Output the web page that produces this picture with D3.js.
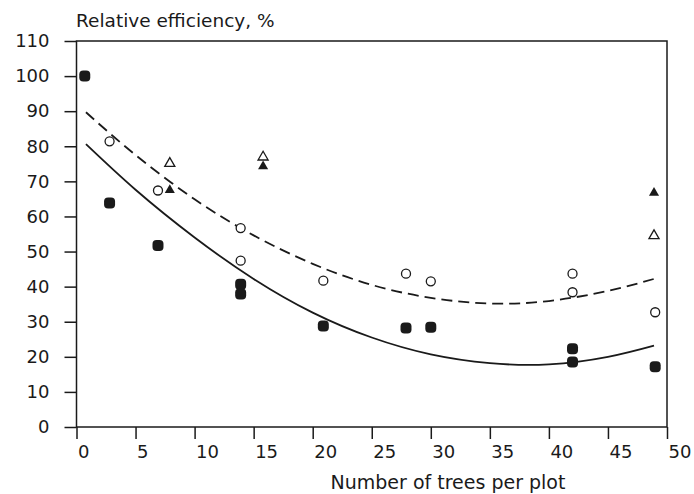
<!DOCTYPE html>
<html>
<head>
<meta charset="utf-8">
<script src="https://cdn.jsdelivr.net/npm/d3@7"></script>
<style>
body { margin: 0; background: #fff; }
text { font-family: "DejaVu Sans", "Liberation Sans", Arial, sans-serif; fill: #1a1a1a; }
</style>
</head>
<body>
<script>
// values
var xTicks = [0, 5, 10, 15, 20, 25, 30, 35, 40, 45, 50]
var yTicks = [0, 10, 20, 30, 40, 50, 60, 70, 80, 90, 100, 110]

var pelneKola = [[0.7, 100], [2.8, 63.8], [6.9, 51.7], [13.9, 40.7], [13.9, 37.9], [20.9, 28.8],
  [27.9, 28.2], [30.0, 28.4], [42.0, 22.3], [42.0, 18.5], [49.0, 17.2]]
var pusteKola = [[2.8, 81.4], [6.9, 67.4], [13.9, 56.7], [13.9, 47.4], [20.9, 41.7],
  [27.9, 43.7], [30.0, 41.5], [42.0, 43.7], [42.0, 38.4], [49.0, 32.7]]
var pusteTrojkaty = [[7.9, 75.4], [15.8, 77.2], [48.9, 54.8]]
var pelneTrojkaty = [[7.9, 67.8], [15.8, 74.6], [48.9, 67]]

// fitted curves, every 5 trees
var liniaCiagla = [[0.8, 80.6], [5, 67.6], [10, 54], [15, 42.2], [20, 32.6], [25, 25.5],
  [30, 20.7], [35, 18.2], [40, 17.85], [45, 20.0], [48.9, 23.2]]
var liniaPrzerywana = [[0.8, 89.7], [5, 77.5], [10, 64.9], [15, 54.6], [20, 46.5], [25, 40.5],
  [30, 36.8], [35, 35.2], [40, 35.9], [45, 38.8], [48.9, 42.2]]

var szer = 694, wys = 494
var svg = d3.select("body").append("svg")
  .attr("width", szer)
  .attr("height", wys)

var x = d3.scaleLinear().domain([0, 50]).range([76.5, 667])
var y = d3.scaleLinear().domain([0, 110]).range([427, 41])

var kolor = "#1a1a1a"

// frame
svg.append("rect")
  .attr("x", x(0)).attr("y", y(110))
  .attr("width", x(50) - x(0)).attr("height", y(0) - y(110))
  .attr("fill", "none").attr("stroke", kolor).attr("stroke-width", 1.5)

var osY = svg.append("g").attr("transform", "translate(" + x(0) + ",0)")
  .call(d3.axisLeft(y).tickValues(yTicks).tickSize(12).tickPadding(15))
osY.select(".domain").remove()
osY.selectAll("line").attr("stroke", kolor).attr("stroke-width", 1.5)
osY.selectAll("text").style("font-size", "18px").attr("fill", kolor)

var osX = svg.append("g").attr("transform", "translate(0," + y(0) + ")")
  .call(d3.axisBottom(x).tickValues(xTicks).tickSize(12).tickPadding(6))
osX.select(".domain").remove()
osX.selectAll("line").attr("stroke", kolor).attr("stroke-width", 1.5)
osX.selectAll("text").style("font-size", "18px").attr("fill", kolor)
  .attr("text-anchor", "start").attr("dx", 1)

// axis titles
svg.append("text").attr("x", 76).attr("y", 27)
  .style("font-size", "18.5px").text("Relative efficiency, %")
svg.append("text").attr("x", 448).attr("y", 489).attr("text-anchor", "middle")
  .style("font-size", "19px").text("Number of trees per plot")

// curves
var linia = d3.line()
  .x(function(d){return x(d[0])})
  .y(function(d){return y(d[1])})
  .curve(d3.curveNatural)

svg.append("path").datum(liniaCiagla)
  .attr("d", linia).attr("fill", "none")
  .attr("stroke", kolor).attr("stroke-width", 1.8)
svg.append("path").datum(liniaPrzerywana)
  .attr("d", linia).attr("fill", "none")
  .attr("stroke", kolor).attr("stroke-width", 1.8)
  .attr("stroke-dasharray", "11,6")

// markers
svg.append("g").selectAll("rect").data(pelneKola).enter().append("rect")
  .attr("x", function(d){return x(d[0]) - 5.5})
  .attr("y", function(d){return y(d[1]) - 5.5})
  .attr("width", 11).attr("height", 11)
  .attr("rx", 4)
  .attr("fill", kolor)

svg.append("g").selectAll("circle").data(pusteKola).enter().append("circle")
  .attr("cx", function(d){return x(d[0])})
  .attr("cy", function(d){return y(d[1])})
  .attr("r", 4.5)
  .attr("fill", "#fff").attr("stroke", kolor).attr("stroke-width", 1.3)

var trojkat = d3.symbol().type(d3.symbolTriangle).size(44)
svg.append("g").selectAll("path").data(pusteTrojkaty).enter().append("path")
  .attr("d", trojkat)
  .attr("transform", function(d){return "translate(" + x(d[0]) + "," + (y(d[1]) + 1) + ")"})
  .attr("fill", "#fff").attr("stroke", kolor).attr("stroke-width", 1.3)
svg.append("g").selectAll("path").data(pelneTrojkaty).enter().append("path")
  .attr("d", trojkat)
  .attr("transform", function(d){return "translate(" + x(d[0]) + "," + (y(d[1]) + 1) + ")"})
  .attr("fill", kolor)
</script>
</body>
</html>
